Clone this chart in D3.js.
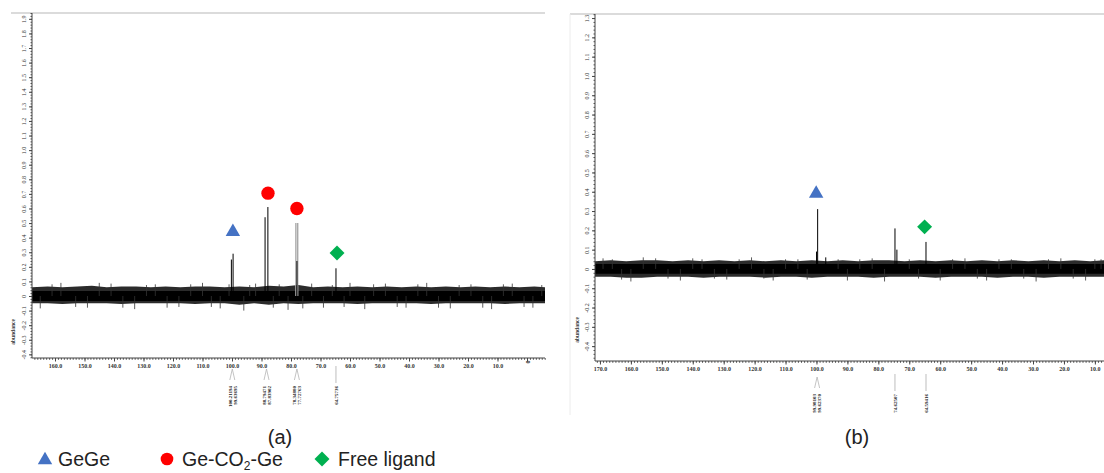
<!DOCTYPE html>
<html>
<head>
<meta charset="utf-8">
<script src="https://cdn.jsdelivr.net/npm/d3@7"></script>
<style>
  body { margin: 0; background: #fff; }
  svg { display: block; }
  .tick text { font-family: 'Liberation Serif', serif; }
</style>
</head>
<body>
<svg id="chart" width="1104" height="473"></svg>
<script>
// ---- data ----

// x tick values (ppm) and labels
const xTicksA = [160, 150, 140, 130, 120, 110, 100, 90, 80, 70, 60, 50, 40, 30, 20, 10, 0];
const xLabelsA = ['160.0', '150.0', '140.0', '130.0', '120.0', '110.0', '100.0', '90.0', '80.0', '70.0', '60.0', '50.0', '40.0', '30.0', '20.0', '10.0', '0'];
const xTicksB = [170, 160, 150, 140, 130, 120, 110, 100, 90, 80, 70, 60, 50, 40, 30, 20, 10];
const xLabelsB = ['170.0', '160.0', '150.0', '140.0', '130.0', '120.0', '110.0', '100.0', '90.0', '80.0', '70.0', '60.0', '50.0', '40.0', '30.0', '20.0', '10.0'];

// y tick values (abundance)
const yTicksA = [1.9, 1.8, 1.7, 1.6, 1.5, 1.4, 1.3, 1.2, 1.1, 1.0, 0.9, 0.8, 0.7, 0.6, 0.5, 0.4, 0.3, 0.2, 0.1, 0, -0.1, -0.2, -0.3, -0.4];
const yTicksB = [1.3, 1.2, 1.1, 1.0, 0.9, 0.8, 0.7, 0.6, 0.5, 0.4, 0.3, 0.2, 0.1, 0, -0.1, -0.2, -0.3, -0.4];

// peaks: [ppm, height, shade]
const peaksA = [
  [100.21194, 0.25, 'k'], [99.63695, 0.29, 'k'],
  [88.79471, 0.54, 'k'], [87.83902, 0.61, 'k'],
  [78.34880, 0.50, 'g'], [77.72763, 0.50, 'g'], [78.0, 0.24, 'k'],
  [64.75736, 0.19, 'k']
];
const peaksB = [
  [99.98103, 0.09, 'k'], [99.62370, 0.31, 'k'],
  [74.62507, 0.21, 'k'], [74.0, 0.10, 'k'],
  [64.59416, 0.14, 'k'], [97.0, 0.06, 'k']
];

// baseline noise envelope: [ppm, upper, lower]
const noiseA = [
  [167.8, 0.06, -0.05], [162.5, 0.065, -0.05], [157.5, 0.06, -0.055], [152.5, 0.065, -0.05],
  [147.5, 0.07, -0.05], [142.5, 0.06, -0.05], [137.5, 0.065, -0.055], [132.5, 0.065, -0.05],
  [127.5, 0.06, -0.05], [122.5, 0.065, -0.05], [117.5, 0.06, -0.05], [112.5, 0.065, -0.055],
  [107.5, 0.065, -0.05], [102.5, 0.06, -0.05], [97.5, 0.065, -0.06], [92.5, 0.06, -0.05],
  [87.5, 0.07, -0.06], [82.5, 0.065, -0.05], [77.5, 0.075, -0.055], [72.5, 0.06, -0.05],
  [67.5, 0.065, -0.05], [62.5, 0.06, -0.05], [57.5, 0.065, -0.055], [52.5, 0.06, -0.05],
  [47.5, 0.065, -0.05], [42.5, 0.06, -0.05], [37.5, 0.065, -0.05], [32.5, 0.06, -0.055],
  [27.5, 0.065, -0.05], [22.5, 0.06, -0.05], [17.5, 0.065, -0.05], [12.5, 0.06, -0.05],
  [7.5, 0.065, -0.055], [2.5, 0.06, -0.05], [-2.5, 0.065, -0.05], [-6.1, 0.06, -0.05]
];
const noiseB = [
  [171.6, 0.04, -0.04], [166.5, 0.045, -0.04], [161.5, 0.04, -0.045], [156.5, 0.045, -0.045],
  [151.5, 0.045, -0.04], [146.5, 0.04, -0.04], [141.5, 0.045, -0.04], [136.5, 0.04, -0.045],
  [131.5, 0.045, -0.04], [126.5, 0.04, -0.04], [121.5, 0.045, -0.04], [116.5, 0.04, -0.045],
  [111.5, 0.045, -0.04], [106.5, 0.04, -0.04], [101.5, 0.045, -0.045], [96.5, 0.04, -0.04],
  [91.5, 0.045, -0.04], [86.5, 0.04, -0.04], [81.5, 0.045, -0.045], [76.5, 0.045, -0.04],
  [71.5, 0.04, -0.04], [66.5, 0.045, -0.04], [61.5, 0.04, -0.045], [56.5, 0.045, -0.04],
  [51.5, 0.04, -0.04], [46.5, 0.045, -0.04], [41.5, 0.04, -0.045], [36.5, 0.045, -0.04],
  [31.5, 0.04, -0.04], [26.5, 0.045, -0.045], [21.5, 0.04, -0.04], [16.5, 0.045, -0.04],
  [11.5, 0.04, -0.04], [7.05, 0.045, -0.04]
];

// individual noise spikes: [ppm, value]
const spikesA = [
  [165, -0.085], [161, 0.08], [158, 0.09], [153, -0.075], [149, -0.08], [145, 0.09],
  [141, 0.085], [137, -0.08], [133, -0.09], [129, 0.075], [126, 0.08], [122, -0.08],
  [118, -0.075], [114, 0.08], [110, 0.09], [107, -0.075], [104, -0.085], [101, 0.08],
  [96, -0.1], [94, 0.075], [92, 0.085], [86, -0.08], [84, 0.08], [81, -0.095],
  [76, -0.085], [73, 0.085], [69, -0.08], [66, 0.075], [62, -0.075], [60, 0.09],
  [55, -0.09], [52, 0.08], [48, 0.085], [44, -0.075], [41, -0.08], [37, 0.08],
  [34, 0.09], [30, -0.08], [26, -0.085], [23, 0.075], [19, 0.08], [15, -0.08],
  [12, -0.09], [8, 0.08], [5, 0.085], [1, -0.075], [-2, -0.08], [-5, 0.075]
];
const spikesB = [
  [169, 0.055], [166, 0.05], [163, -0.055], [160, -0.065], [156, 0.06], [152, 0.055],
  [148, -0.05], [144, -0.06], [140, 0.055], [137, 0.05], [133, -0.05], [129, -0.055],
  [125, 0.05], [121, 0.06], [117, -0.05], [114, -0.06], [110, 0.05], [106, 0.05],
  [103, -0.055], [93, 0.05], [90, -0.06], [86, 0.05], [82, 0.055], [78, -0.065],
  [70, 0.05], [67, -0.05], [60, -0.06], [56, 0.05], [52, 0.055], [48, -0.05],
  [45, -0.06], [41, 0.05], [37, 0.05], [33, -0.05], [29, -0.065], [25, 0.05],
  [21, 0.055], [17, -0.05], [13, -0.06], [10, 0.05], [8, 0.05]
];

// annotation markers: [shape, ppm, value]
const markersA = [['triangle', 99.7, 0.44], ['circle', 87.8, 0.705], ['circle', 78.0, 0.60], ['diamond', 64.4, 0.295]];
const markersB = [['triangle', 100.1, 0.39], ['diamond', 65.05, 0.218]];

// peak-pick labels under the axis: [ppm, texts]
const pickA = [[99.9, ['100.21194', '99.63695']], [88.3, ['88.79471', '87.83902']], [78.0, ['78.34880', '77.72763']], [64.76, ['64.75736']]];
const pickB = [[99.8, ['99.98103', '99.62370']], [74.63, ['74.62507']], [64.59, ['64.59416']]];

// legend
const legendItems = [['triangle', 'GeGe'], ['circle', 'Ge-CO2-Ge'], ['diamond', 'Free ligand']];
const panelNames = ['(a)', '(b)'];

const markerColor = { triangle: '#4472C4', circle: '#FF0000', diamond: '#00B050' };

const svg = d3.select('#chart');

function markerPath(shape, k = 1) {
  if (shape === 'triangle') return d3.symbol(d3.symbolTriangle, 90 * k * k)();
  if (shape === 'circle') return d3.symbol(d3.symbolCircle, 140 * k * k)();
  return d3.symbol(d3.symbolSquare, 112 * k * k)();
}

function drawPanel(cfg) {
  const x = d3.scaleLinear().domain(cfg.xDomain).range(cfg.xRange);
  const y = d3.scaleLinear().domain(cfg.yDomain).range(cfg.yRange);
  const g = svg.append('g');

  // light frame
  g.append('line')
    .attr('x1', cfg.frame[0]).attr('x2', cfg.xRange[1])
    .attr('y1', cfg.yRange[1]).attr('y2', cfg.yRange[1])
    .attr('stroke', '#cfcfcf').attr('stroke-width', 1.5);
  if (cfg.leftBorder) {
    g.append('line')
      .attr('x1', cfg.frame[0]).attr('x2', cfg.frame[0])
      .attr('y1', cfg.yRange[1]).attr('y2', 415)
      .attr('stroke', '#ececec').attr('stroke-width', 1);
  }

  // noise band
  g.append('path').datum(cfg.noise)
    .attr('d', d3.area().x(d => x(d[0])).y0(d => y(d[2])).y1(d => y(d[1])))
    .attr('fill', '#2b2b2b');
  g.append('path').datum(cfg.noise)
    .attr('d', d3.area().x(d => x(d[0])).y0(y(-cfg.core)).y1(y(cfg.core)))
    .attr('fill', '#000');
  g.selectAll('line.spike').data(cfg.spikes).join('line')
    .attr('class', 'spike')
    .attr('x1', d => x(d[0])).attr('x2', d => x(d[0]))
    .attr('y1', y(0)).attr('y2', d => y(d[1]))
    .attr('stroke', '#333').attr('stroke-width', 0.8);

  // peaks
  g.selectAll('line.peak').data(cfg.peaks).join('line')
    .attr('class', 'peak')
    .attr('x1', d => x(d[0])).attr('x2', d => x(d[0]))
    .attr('y1', y(0)).attr('y2', d => y(d[1]))
    .attr('stroke', d => d[2] === 'g' ? '#a8a8a8' : '#000')
    .attr('stroke-width', d => d[2] === 'g' ? 1.4 : 1);

  // y axis: minor then major
  const yMinor = d3.range(-50, 200, 2).map(v => v / 100)
    .filter(v => v >= cfg.yDomain[0] && v <= cfg.yDomain[1]);
  g.append('g').attr('transform', `translate(${cfg.xRange[0]},0)`)
    .call(d3.axisLeft(y).tickValues(yMinor).tickSize(1.5).tickFormat(''))
    .call(a => a.select('.domain').remove())
    .selectAll('line').attr('stroke', '#555');
  const ya = g.append('g').attr('transform', `translate(${cfg.xRange[0]},0)`)
    .call(d3.axisLeft(y).tickValues(cfg.yTicks).tickSize(3)
      .tickFormat(d => d === 0 ? '0' : d.toFixed(1)));
  ya.select('.domain').attr('stroke', '#444').attr('d', `M0,${cfg.yRange[1]}V${cfg.yRange[0]}`);
  ya.selectAll('.tick line').attr('stroke', '#444');
  ya.selectAll('text')
    .attr('x', null).attr('dy', null).attr('y', 0)
    .attr('text-anchor', 'middle')
    .attr('transform', 'translate(-6,0) rotate(-90)')
    .attr('font-size', 6).attr('fill', '#333');

  // abundance label
  g.append('text')
    .attr('transform', `translate(${cfg.abundX},${cfg.abundY}) rotate(-90)`)
    .attr('text-anchor', 'middle')
    .attr('font-family', 'Liberation Serif, serif').attr('font-weight', 'bold')
    .attr('font-size', 5.5).attr('fill', '#333')
    .text('abundance');

  // x axis: minor then major
  const minor = d3.range(Math.ceil(cfg.xDomain[1]), Math.floor(cfg.xDomain[0]) + 1);
  g.append('g').attr('transform', `translate(0,${cfg.yRange[0]})`)
    .call(d3.axisBottom(x).tickValues(minor).tickSize(1.8).tickFormat(''))
    .call(a => a.select('.domain').remove())
    .selectAll('line').attr('stroke', '#555');
  const xa = g.append('g').attr('transform', `translate(0,${cfg.yRange[0]})`)
    .call(d3.axisBottom(x).tickValues(cfg.xTicks).tickSize(3.5)
      .tickFormat((d, i) => cfg.xLabels[i]));
  xa.select('.domain').attr('stroke', '#444').attr('d', `M${cfg.xRange[0]},0H${cfg.xRange[1]}`);
  xa.selectAll('.tick line').attr('stroke', '#444');
  xa.selectAll('text').attr('y', 6).attr('dy', '0.71em')
    .attr('font-size', 6).attr('font-weight', 'bold').attr('fill', '#333');
  xa.selectAll('.tick').filter(d => d === 0).select('text')
    .attr('transform', 'translate(0,4) rotate(-90)').attr('y', 0).attr('dy', '0.35em');

  // peak-pick marks and labels
  cfg.picks.forEach(([ppm, texts]) => {
    const px = x(ppm);
    const t = cfg.pickTop;
    if (texts.length === 2) {
      g.append('path')
        .attr('d', `M${px - 2.5},${t + 11}L${px},${t}L${px + 2.5},${t + 11}`)
        .attr('fill', 'none').attr('stroke', '#b5b5b5').attr('stroke-width', 0.8);
    } else {
      g.append('line').attr('x1', px).attr('x2', px)
        .attr('y1', t - 3).attr('y2', t + 14)
        .attr('stroke', '#bdbdbd').attr('stroke-width', 1);
    }
    texts.forEach((s, i) => {
      const off = texts.length === 2 ? (i === 0 ? -2.6 : 2.6) : 0;
      g.append('text')
        .attr('transform', `translate(${px + off + 1.8},${t + 17}) rotate(-90)`)
        .attr('text-anchor', 'end')
        .attr('font-family', 'Liberation Serif, serif').attr('font-weight', 'bold')
        .attr('font-size', 5).attr('fill', '#222')
        .text(s);
    });
  });

  // annotation markers
  g.selectAll('path.mk').data(cfg.markers).join('path')
    .attr('class', 'mk')
    .attr('d', d => markerPath(d[0]))
    .attr('transform', d => `translate(${x(d[1])},${y(d[2])})` + (d[0] === 'diamond' ? ' rotate(45)' : ''))
    .attr('fill', d => markerColor[d[0]]);

  // panel label
  svg.append('text')
    .attr('x', cfg.nameX).attr('y', 444)
    .attr('text-anchor', 'middle')
    .attr('font-family', 'Liberation Sans, Arial, sans-serif')
    .attr('font-size', 20).attr('fill', '#222')
    .text(cfg.name);
}

drawPanel({
  xDomain: [167.8, -6.1], xRange: [32, 545],
  yDomain: [-0.425, 1.94], yRange: [358, 13],
  frame: [11], leftBorder: false,
  xTicks: xTicksA, xLabels: xLabelsA, yTicks: yTicksA,
  peaks: peaksA, noise: noiseA, spikes: spikesA, core: 0.035,
  markers: markersA, picks: pickA, pickTop: 369,
  abundX: 15, abundY: 332, name: panelNames[0], nameX: 280
});

drawPanel({
  xDomain: [171.6, 7.05], xRange: [595, 1104],
  yDomain: [-0.477, 1.321], yRange: [361, 14],
  frame: [570], leftBorder: true,
  xTicks: xTicksB, xLabels: xLabelsB, yTicks: yTicksB,
  peaks: peaksB, noise: noiseB, spikes: spikesB, core: 0.025,
  markers: markersB, picks: pickB, pickTop: 377,
  abundX: 579, abundY: 330, name: panelNames[1], nameX: 857
});

// legend
const legX = [45, 167, 322];
const textX = [58, 182, 338];
legendItems.forEach(([shape, label], i) => {
  svg.append('path')
    .attr('d', markerPath(shape, shape === 'circle' ? 0.95 : 1))
    .attr('transform', `translate(${legX[i]},${shape === 'triangle' ? 460 : 459})` + (shape === 'diamond' ? ' rotate(45)' : ''))
    .attr('fill', markerColor[shape]);
  const t = svg.append('text')
    .attr('x', textX[i]).attr('y', 466)
    .attr('font-family', 'Liberation Sans, Arial, sans-serif')
    .attr('font-size', 19.5).attr('fill', '#222');
  if (label === 'Ge-CO2-Ge') {
    t.append('tspan').text('Ge-CO');
    t.append('tspan').attr('font-size', 12).attr('dy', 4).text('2');
    t.append('tspan').attr('dy', -4).text('-Ge');
  } else {
    t.text(label);
  }
});
</script>
</body>
</html>
